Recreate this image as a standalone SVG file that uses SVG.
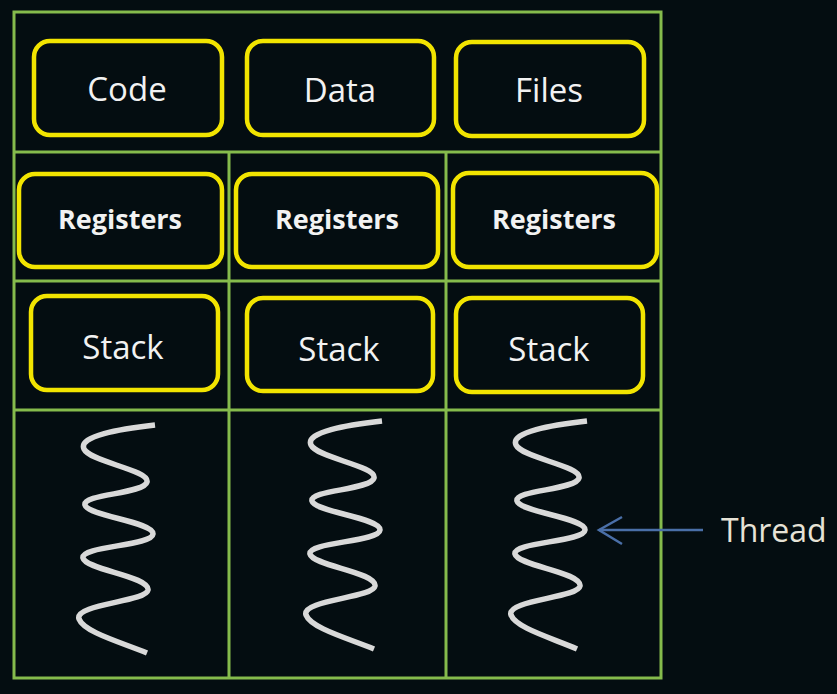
<svg xmlns="http://www.w3.org/2000/svg" width="837" height="694" viewBox="0 0 837 694">
<style>
.bg{fill:#040d11}
.grid{fill:none;stroke:#85bb4c;stroke-width:3}
.box{fill:#040d11;stroke:#f2e400;stroke-width:4.5}
.lbl{font-family:"Open Sans","Liberation Sans",sans-serif;font-size:33px;fill:#f2f2f2;text-anchor:middle}
.reg{font-family:"Open Sans","Liberation Sans",sans-serif;font-size:27px;font-weight:bold;fill:#f2f2f2;text-anchor:middle}
.thr{fill:none;stroke:#d9d9d9;stroke-width:5.5;stroke-linecap:butt;stroke-linejoin:round}
.arr{fill:none;stroke:#4a6fa8;stroke-width:2.5}
</style>
<rect class="bg" x="0" y="0" width="837" height="694"/>
<g id="frame">
<rect class="grid" x="14" y="12" width="647" height="666"/>
<line class="grid" x1="14" y1="152" x2="661" y2="152"/>
<line class="grid" x1="14" y1="281" x2="661" y2="281"/>
<line class="grid" x1="14" y1="410" x2="661" y2="410"/>
<line class="grid" x1="229" y1="152" x2="229" y2="678"/>
<line class="grid" x1="446" y1="152" x2="446" y2="678"/>
</g>
<g id="code"><rect class="box" x="34" y="41" width="188" height="94" rx="16"/><text class="lbl" x="127" y="101">Code</text></g>
<g id="data"><rect class="box" x="247" y="41" width="187" height="94" rx="16"/><text class="lbl" x="340" y="102">Data</text></g>
<g id="files"><rect class="box" x="456" y="42" width="188" height="94" rx="16"/><text class="lbl" x="549" y="102">Files</text></g>
<g id="registers1"><rect class="box" x="19" y="174" width="203" height="93" rx="16"/><text class="reg" x="120" y="229">Registers</text></g>
<g id="registers2"><rect class="box" x="236" y="174" width="202" height="93" rx="16"/><text class="reg" x="337" y="229">Registers</text></g>
<g id="registers3"><rect class="box" x="453" y="173" width="204" height="94" rx="16"/><text class="reg" x="554" y="229">Registers</text></g>
<g id="stack1"><rect class="box" x="31" y="296" width="187" height="94" rx="16"/><text class="lbl" x="123" y="359">Stack</text></g>
<g id="stack2"><rect class="box" x="247" y="298" width="186" height="93" rx="16"/><text class="lbl" x="339" y="361">Stack</text></g>
<g id="stack3"><rect class="box" x="456" y="298" width="187" height="94" rx="16"/><text class="lbl" x="549" y="361">Stack</text></g>
<g id="thread1"><path class="thr" d="M155,425 C120,429 78,436 84,449 C90,462 150,470 147,482 C144,494 82,494 85,505 C88,516 154,522 153,534 C152,546 80,546 83,558 C86,570 150,576 148,590 C146,602 74,604 79,619 C84,632 120,642 147,653"/></g>
<g id="thread2"><path class="thr" d="M382,421 C347,425 305,432 311,445 C317,458 377,466 374,478 C371,490 309,490 312,501 C315,512 381,518 380,530 C379,542 307,542 310,554 C313,566 377,572 375,586 C373,598 301,600 306,615 C311,628 347,638 374,649"/></g>
<g id="thread3"><path class="thr" d="M587,421 C552,425 510,432 516,445 C522,458 582,466 579,478 C576,490 514,490 517,501 C520,512 586,518 585,530 C584,542 512,542 515,554 C518,566 582,572 580,586 C578,598 506,600 511,615 C516,628 552,638 577,649"/></g>
<g id="connectors">
<line class="arr" x1="703" y1="530" x2="599" y2="530"/>
<polyline class="arr" points="622,517 599,530 622,544"/>
</g>
<g id="thread-label"><text x="721" y="542" style="font-family:'Open Sans','Liberation Sans',sans-serif;font-size:32px;fill:#e6e2d6">Thread</text></g>
</svg>
